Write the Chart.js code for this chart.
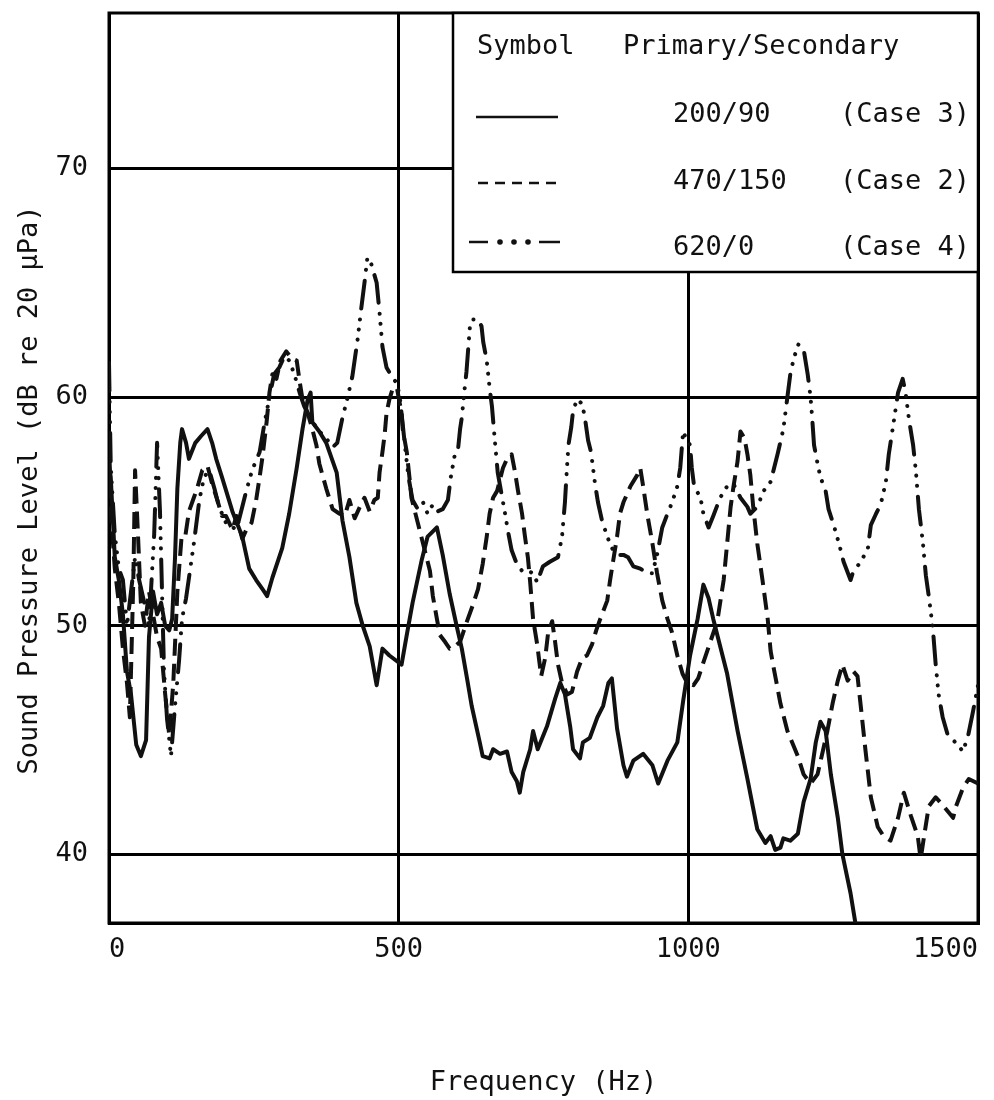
<!DOCTYPE html>
<html>
<head>
<meta charset="utf-8">
<script src="https://cdn.jsdelivr.net/npm/chart.js@4.4.1/dist/chart.umd.min.js"></script>
<style>
  html, body { margin: 0; padding: 0; background: #fff; }
</style>
</head>
<body>
<canvas id="splChart" width="994" height="1100"></canvas>
<script>
// Axis ticks
const freqTicks = [0, 500, 1000, 1500];
const levelTicks = [40, 50, 60, 70];

// Case 3 - primary 200 / secondary 90 (solid)
const case3Hz = [0,3,10,17,24,31,38,47,55,64,69,76,83,90,97,104,109,114,118,123,126,133,138,149,159,170,178,185,195,213,230,242,254,265,273,282,299,311,324,334,343,348,351,363,375,393,403,415,427,438,450,462,472,484,505,514,524,540,550,566,576,588,600,609,618,626,640,645,657,663,675,687,695,704,709,715,727,732,740,756,770,779,787,796,801,813,818,830,843,853,862,868,877,888,894,905,922,938,948,964,981,991,1003,1016,1026,1035,1043,1067,1085,1102,1119,1133,1142,1150,1159,1164,1176,1189,1199,1211,1220,1228,1237,1246,1258,1266,1280,1289];
const case3Db = [57,56.5,53,52,50.5,48,47,44.8,44.3,45,49.5,51.5,50.5,51,50,49.8,50.3,53,56,58,58.6,58,57.3,58,58.3,58.6,58,57.3,56.5,55,53.9,52.5,52,51.6,51.3,52.1,53.4,54.9,56.9,58.6,59.9,60.2,58.9,58.5,58,56.7,54.6,53,51,50,49.1,47.4,49,48.7,48.3,49.6,51,52.9,53.9,54.3,53.1,51.4,50,49,47.7,46.5,44.9,44.3,44.2,44.6,44.4,44.5,43.6,43.2,42.7,43.6,44.6,45.4,44.6,45.6,46.8,47.5,47,45.6,44.6,44.2,44.9,45.1,46,46.5,47.5,47.7,45.5,43.9,43.4,44.1,44.4,43.9,43.1,44.1,44.9,46.7,48.7,50.3,51.8,51.2,50.3,47.9,45.4,43.3,41.1,40.5,40.8,40.2,40.3,40.7,40.6,40.9,42.3,43.3,44.9,45.8,45.4,43.5,41.6,40,38.3,36.9];

// Case 2 - primary 470 / secondary 150 (dashed)
const case2Hz = [0,3,10,17,24,31,36,42,45,50,55,62,69,76,83,90,97,104,111,118,125,131,138,145,152,161,170,178,187,195,202,213,220,230,237,246,254,260,265,272,277,282,289,296,306,315,324,329,334,343,351,358,363,375,386,398,407,415,424,433,441,450,458,464,467,472,476,479,484,490,497,505,507,514,519,522,528,536,545,554,559,566,571,580,588,597,606,618,628,637,645,652,657,663,670,675,680,687,695,701,706,713,718,723,727,732,739,746,753,758,765,770,775,782,791,799,808,817,825,834,841,848,860,865,870,877,882,888,900,912,917,922,929,938,946,955,964,972,981,990,998,1009,1017,1026,1038,1050,1061,1067,1073,1078,1085,1090,1097,1102,1107,1112,1119,1128,1137,1142,1147,1159,1171,1189,1199,1211,1223,1232,1240,1249,1258,1266,1275,1285,1292,1298,1306,1315,1327,1337,1349,1362,1372,1384,1396,1401,1407,1415,1427,1441,1457,1462,1474,1484,1500];
const case2Db = [58.5,55,52.5,51,49,47.5,46,52,56.8,54,51,50,51.5,50.5,49.5,49,47,45.2,47.5,51.5,53.8,53.8,55,55.5,56,56.8,57,56.2,55.5,54.8,54.8,54.2,54.8,53.8,54.2,54.5,55.5,56.5,57.4,58.9,60.2,61,60.8,61.6,62,61.7,61.6,60.7,59.9,59.3,58.6,57.9,57.1,56,55.1,54.9,54.8,55.5,54.7,55.2,55.6,55,55.5,55.6,56.7,57.6,58.4,59.3,59.9,60.4,60.4,59.3,58.6,57.6,56.4,55.6,55,54.2,53.3,52.4,51.3,50.3,49.6,49.3,49,49.1,49.3,50.2,50.9,51.6,52.7,53.9,54.9,55.6,55.9,56.4,56.9,57.3,57.5,56.7,55.9,54.9,53.9,53,51.9,50.3,49.2,47.8,48.6,49.7,50.2,49.3,48.3,47.5,47,47.1,48,48.6,48.7,49.2,49.8,50.3,51.1,52,52.8,53.9,54.9,55.4,56.1,56.6,56.9,56.1,54.9,53.6,52.3,51.1,50.3,49.7,48.7,47.9,47.5,47.4,47.7,48.4,49.3,50.2,52,53.6,55.2,56.1,57.2,58.5,58.2,57.5,56.6,55.2,53.6,52,50.3,48.9,48.2,46.6,45.4,44.3,43.5,43.1,43.5,44.5,45.4,46.6,47.6,48.3,47.6,48,47.8,46.4,44.5,42.5,41.2,40.8,40.6,41.6,42.7,41.7,40.8,39.8,40.8,42.1,42.5,42.1,41.6,42.1,42.9,43.3,43.1];

// Case 4 - primary 620 / secondary 0 (dash-dot-dot)
const case4Hz = [0,3,10,17,24,31,38,45,52,61,69,78,83,88,92,95,100,107,114,121,126,133,147,156,164,173,182,190,202,220,228,237,247,260,268,277,285,294,303,311,320,329,337,349,363,375,386,394,403,412,420,429,436,441,446,453,462,467,472,479,488,497,502,507,512,517,524,533,542,550,559,567,576,585,590,597,602,606,609,614,617,620,623,628,637,643,646,652,657,661,666,671,678,683,689,695,704,713,723,732,739,749,761,775,782,787,790,793,798,801,808,817,822,827,832,839,844,851,860,868,877,888,896,905,917,929,938,946,955,964,972,981,986,991,996,1003,1006,1010,1021,1026,1035,1043,1055,1067,1078,1090,1102,1107,1119,1130,1142,1154,1164,1171,1176,1182,1190,1199,1206,1211,1214,1217,1223,1228,1237,1242,1251,1260,1268,1280,1285,1298,1310,1315,1324,1332,1341,1346,1355,1362,1370,1375,1381,1388,1393,1398,1405,1410,1415,1422,1427,1432,1439,1448,1457,1465,1474,1483,1491,1500];
const case4Db = [61.5,57,54,52.5,52,50,51.5,53,52,51,50,54,58,55,51,48,46,44.3,46.5,48.5,50.3,51.2,53.7,55.5,56.5,56.8,56,55.2,54.5,54.2,55,55.9,56.8,57.6,58.8,60,61,61.3,61.8,61.6,61,60.2,59.6,59,58.5,58.2,57.8,58,59.1,60,60.9,62.5,64,65,66.1,65.8,65,63.7,62.2,61.3,60.9,60.6,60,58.8,57.6,56.5,55.5,55.1,55.4,54.9,55.3,55,55.1,55.5,56.5,57.5,57.6,58.6,59.1,60.4,61.1,62.1,63.1,63.4,63.4,63.1,62.4,61.6,60.4,59.6,58.1,56.7,55.7,55,54.1,53.3,52.7,52.4,52.4,52.3,51.9,52.6,52.8,53,53.9,55.4,56.7,57.9,58.7,59.4,59.9,59.7,59,58.1,57.6,56.2,55.4,54.6,53.9,53.4,53.1,53.1,53,52.6,52.5,52.3,52.3,53.1,54.3,54.9,55.4,56.1,56.9,58.5,58.2,57.9,56.9,56.1,55.6,54.9,54.3,54.8,55.6,56.1,56.2,55.6,55.2,54.9,55.2,55.9,56.3,57.5,58.6,60,61,61.7,62.3,62.1,61,60,59,57.9,57.1,56.5,55.9,55.1,54.4,53.6,52.8,52,52.4,52.8,53.4,54.4,54.9,55.3,56.3,57.5,59,60.2,60.8,60.2,59,57.9,56.7,55.1,53.6,52.2,51.3,49.9,48.3,47,46,45.2,45,44.8,44.5,45.2,46.2,47.4];

// Legend table
const legendHeads = ['Symbol', 'Primary/Secondary'];
const legendRatios = ['200/90', '470/150', '620/0'];
const legendCases = ['(Case 3)', '(Case 2)', '(Case 4)'];

const INK = '#111';
const FONT_FAMILY = '"DejaVu Sans Mono", "Liberation Mono", monospace';
const FONT_SIZE = 27;

const solidDash = [];
const shortDash = [17, 8];
const dashDotDot = [28, 11, 0.1, 10, 0.1, 10, 0.1, 11];

function toPoints(xs, ys) {
    return xs.map((x, i) => ({ x: x, y: ys[i] }));
}

function lineSet(label, xs, ys, dash) {
    return {
        label: label,
        data: toPoints(xs, ys),
        borderColor: INK,
        borderWidth: 4,
        borderDash: dash,
        borderCapStyle: dash === dashDotDot ? 'round' : 'butt',
        borderJoinStyle: 'round',
        pointRadius: 0,
        tension: 0,
        fill: false
    };
}

function segment(ctx, x1, x2, y) {
    ctx.beginPath();
    ctx.moveTo(x1, y);
    ctx.lineTo(x2, y);
    ctx.stroke();
}

function dot(ctx, x, y) {
    ctx.beginPath();
    ctx.arc(x, y, 2.8, 0, Math.PI * 2);
    ctx.fill();
}

// Frame, legend box and vertical axis title
const decorPlugin = {
    id: 'decor',
    beforeDatasetsDraw(chart) {
        const { ctx, chartArea: a } = chart;
        ctx.save();
        ctx.strokeStyle = '#000';
        ctx.lineWidth = 3;
        ctx.strokeRect(a.left, a.top, a.right - a.left, a.bottom - a.top);
        ctx.restore();
    },
    afterDatasetsDraw(chart) {
        const { ctx, chartArea: a } = chart;
        const boxLeft = 453, boxBottom = 272;
        ctx.save();
        ctx.fillStyle = '#fff';
        ctx.fillRect(boxLeft, a.top, a.right - boxLeft, boxBottom - a.top);
        ctx.strokeStyle = '#000';
        ctx.lineWidth = 2.5;
        ctx.strokeRect(boxLeft, a.top, a.right - boxLeft, boxBottom - a.top);

        ctx.fillStyle = INK;
        ctx.font = FONT_SIZE + 'px ' + FONT_FAMILY;
        ctx.textBaseline = 'middle';
        ctx.textAlign = 'left';
        ctx.fillText(legendHeads[0], 477, 47);
        ctx.fillText(legendHeads[1], 623, 47);

        const rowY = [115, 182, 248];
        legendRatios.forEach((txt, i) => {
            ctx.fillText(txt, 673, rowY[i]);
            ctx.fillText(legendCases[i], 840, rowY[i]);
        });

        // symbol samples
        ctx.strokeStyle = INK;
        ctx.lineWidth = 2.5;
        segment(ctx, 476, 558, 117);
        ctx.setLineDash([10, 7]);
        segment(ctx, 478, 556, 183);
        ctx.setLineDash([]);
        segment(ctx, 469, 488, 242);
        segment(ctx, 539, 560, 242);
        [500, 514, 528].forEach(x => dot(ctx, x, 242));

        // y-axis title
        ctx.translate(30, 490);
        ctx.rotate(-Math.PI / 2);
        ctx.textAlign = 'center';
        ctx.fillText('Sound Pressure Level (dB re 20 \u03bcPa)', 0, 0);
        ctx.restore();
    }
};

const ctx = document.getElementById('splChart').getContext('2d');
window.splChart = new Chart(ctx, {
    type: 'line',
    data: {
        datasets: [
            lineSet('200/90 (Case 3)', case3Hz, case3Db, solidDash),
            lineSet('470/150 (Case 2)', case2Hz, case2Db, shortDash),
            lineSet('620/0 (Case 4)', case4Hz, case4Db, dashDotDot)
        ]
    },
    options: {
        responsive: false,
        animation: false,
        layout: { padding: { top: 13, right: 16, left: 0, bottom: 0 } },
        plugins: {
            legend: { display: false },
            tooltip: { enabled: false }
        },
        scales: {
            x: {
                type: 'linear',
                min: 0,
                max: 1500,
                afterBuildTicks: scale => { scale.ticks = freqTicks.map(v => ({ value: v })); },
                afterFit: scale => {
                    scale.height = 177;
                    scale.paddingLeft = 0;
                    scale.paddingRight = 0;
                },
                ticks: {
                    align: 'inner',
                    padding: 11,
                    maxRotation: 0,
                    autoSkip: false,
                    color: INK,
                    font: { family: FONT_FAMILY, size: FONT_SIZE },
                    callback: v => String(v)
                },
                grid: { color: '#000', lineWidth: 3, drawTicks: false },
                border: { display: true, color: '#000', width: 3 },
                title: {
                    display: true,
                    text: 'Frequency (Hz)',
                    color: INK,
                    font: { family: FONT_FAMILY, size: FONT_SIZE },
                    padding: { top: 0, bottom: 1 }
                }
            },
            y: {
                type: 'linear',
                min: 37,
                max: 76.8,
                afterBuildTicks: scale => { scale.ticks = levelTicks.map(v => ({ value: v })); },
                afterFit: scale => {
                    scale.width = 109;
                    scale.paddingTop = 0;
                    scale.paddingBottom = 0;
                },
                ticks: {
                    padding: 21,
                    color: INK,
                    font: { family: FONT_FAMILY, size: FONT_SIZE },
                    callback: v => String(v)
                },
                grid: { color: '#000', lineWidth: 3, drawTicks: false },
                border: { display: true, color: '#000', width: 3 }
            }
        }
    },
    plugins: [decorPlugin]
});
</script>
</body>
</html>
